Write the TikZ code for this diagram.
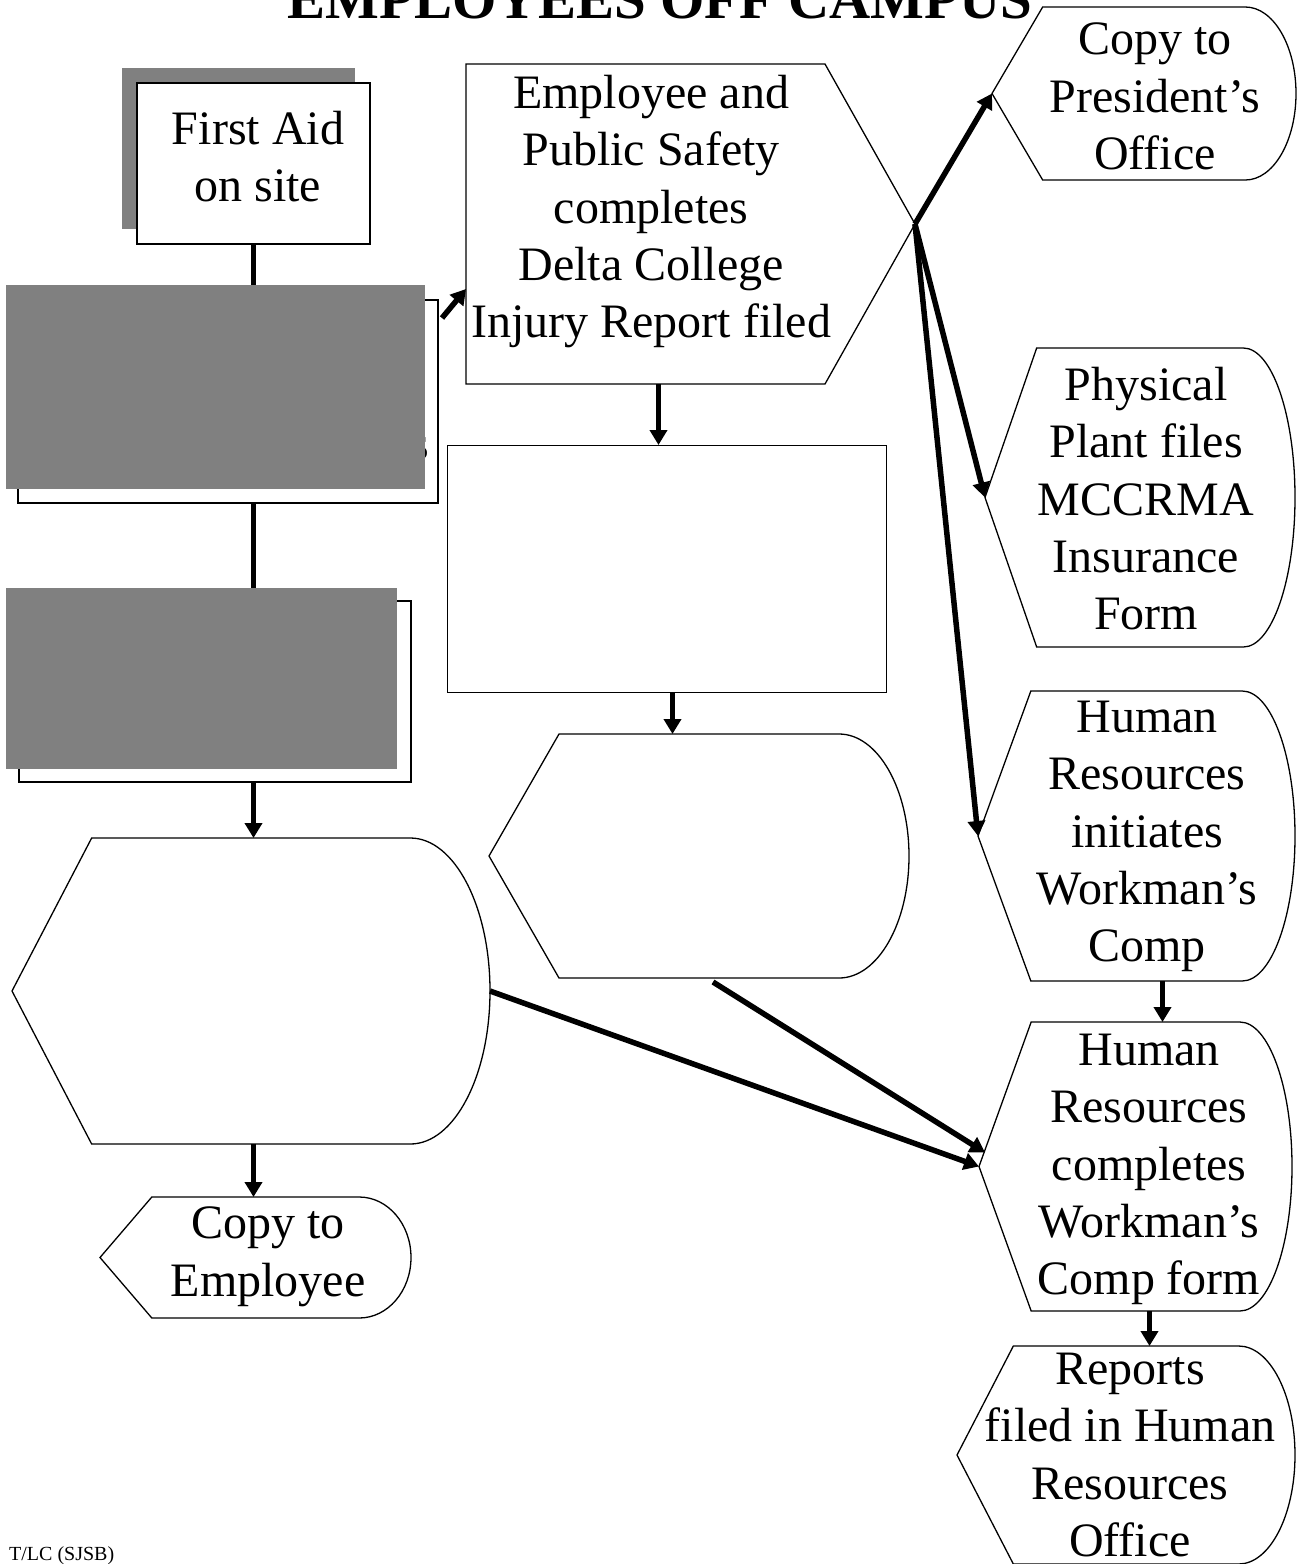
\documentclass[tikz,border=0pt]{standalone}
\usepackage{fontspec}
\setmainfont{Liberation Serif}
\usetikzlibrary{arrows.meta,calc,shadows}
\definecolor{redact}{RGB}{128,128,128}

% flowchart "display" outline round a node: point on the left, half ellipse on the right
\newcommand{\displayoutline}[1]{%
  \draw[outline] let \p1=(#1.north west), \p2=(#1.south east),
      \n1={(\x2-\x1)/6}, \n2={(\y1-\y2)/2} in
    (#1.west) -- (\x1+\n1,\y1) -- (\x2-\n1,\y1)
    arc[start angle=90, end angle=-90, x radius=\n1, y radius=\n2]
    -- (\x1+\n1,\y2) -- cycle;}

\begin{document}
\begin{tikzpicture}[x=1pt, y=-1pt,
    box/.style={draw, line width=1.5pt, fill=white, inner sep=0pt, outer sep=0pt},
    dispbox/.style={inner sep=0pt, outer sep=0pt},
    outline/.style={line width=1.3pt},
    txt/.style={font=\fontsize{48}{57.3}\selectfont, align=center, inner sep=0pt, anchor=north},
    link/.style={line width=5.5pt},
    flow/.style={link, -{Triangle[length=15pt, width=17pt]}}]

  \useasboundingbox (0,0) rectangle (1297,1564);

  % title
  \node[font=\fontsize{57}{60}\selectfont\bfseries, anchor=base] (title) at (660,18) {EMPLOYEES OFF CAMPUS};

  % left column
  \node[box, minimum width=233pt, minimum height=161pt,
    drop shadow={shadow xshift=-15pt, shadow yshift=15pt, fill=redact, opacity=1}] (aid) at (253.5,163.5) {};
  \node[box, minimum width=420pt, minimum height=203pt] (hid1) at (228,401.5) {};
  \node[box, minimum width=392pt, minimum height=181pt] (hid2) at (215,691.5) {};
  \node[dispbox, minimum width=478pt, minimum height=306pt] (big) at (251,991) {};
  \node[dispbox, minimum width=311pt, minimum height=121pt] (cemp) at (255.5,1257.5) {};

  % middle column
  \node[dispbox, minimum width=359pt, minimum height=320pt] (emp) at (645.5,224) {};
  \coordinate (emp-tip) at ([xshift=90pt]emp.east);
  \draw[outline] (emp.north east) -- (emp-tip) -- (emp.south east)
    -- (emp.south west) -- (emp.north west) -- cycle;
  \node[box, line width=1pt, minimum width=439pt, minimum height=247pt] (blank) at (666.5,568.5) {};
  \node[dispbox, minimum width=420pt, minimum height=244pt] (mid) at (699,856) {};

  % right column
  \node[dispbox, minimum width=304pt, minimum height=173pt] (pres) at (1144,93.5) {};
  \node[dispbox, minimum width=310pt, minimum height=299pt] (plant) at (1140,497.5) {};
  \node[dispbox, minimum width=317pt, minimum height=290pt] (hrinit) at (1136.5,836) {};
  \node[dispbox, minimum width=313pt, minimum height=289pt] (hrcomp) at (1135.5,1166.5) {};
  \node[dispbox, minimum width=338pt, minimum height=218pt] (files) at (1126,1455) {};

  \foreach \shp in {big,cemp,mid,pres,plant,hrinit,hrcomp,files}
    {\displayoutline{\shp}}

  % texts
  \node[txt] (aid-t) at (258,111) {First Aid\\on site};
  \node[font=\fontsize{48}{57.3}\selectfont, anchor=base east, inner sep=0pt] (hid1-t) at (429,459) {s};
  \node[txt] (emp-t) at (651,75) {Employee and\\Public Safety\\completes\\Delta College\\Injury Report filed};
  \node[txt] (cemp-t) at (268,1207) {Copy to\\Employee};
  \node[txt] (pres-t) at (1155,23) {Copy to\\President’s\\Office};
  \node[txt] (plant-t) at (1146,367) {Physical\\Plant files\\MCCRMA\\Insurance\\Form};
  \node[txt] (hrinit-t) at (1147,701) {Human\\Resources\\initiates\\Workman’s\\Comp};
  \node[txt] (hrcomp-t) at (1149,1034) {Human\\Resources\\completes\\Workman’s\\Comp form};
  \node[txt] (files-t) at (1130,1353) {Reports\\filed in Human\\Resources\\Office};
  \node[font=\fontsize{20}{24}\selectfont, anchor=base west, inner sep=0pt] (foot) at (9,1560) {T/LC (SJSB)};

  % connectors
  \draw[link] (aid.south) -- (aid.south |- hid1.north);
  \draw[link] (aid.south |- hid1.south) -- (aid.south |- hid2.north);
  \draw[flow] (aid.south |- hid2.south) -- (aid.south |- big.north);
  \draw[flow] (aid.south |- big.south) -- (aid.south |- cemp.north);
  \draw[flow] ([shift={(4pt,-18pt)}]hid1.north east) -- ([yshift=95pt]emp.south west);
  \draw[flow] ([xshift=-8pt]blank.north |- emp.south) -- ([xshift=-8pt]blank.north);
  \draw[flow] ([xshift=6pt]blank.south) -- ([xshift=6pt]blank.south |- mid.north);
  \draw[flow] (emp-tip) -- (pres.west);
  \draw[flow] (emp-tip) -- (plant.west);
  \draw[flow] (emp-tip) -- (hrinit.west);
  \draw[flow] ([xshift=26pt]hrinit.south) -- ([xshift=26pt]hrinit.south |- hrcomp.north);
  \draw[flow] ([xshift=14pt]hrcomp.south) -- ([xshift=14pt]hrcomp.south |- files.north);
  \draw[flow] (big.east) -- (hrcomp.west);
  \draw[flow] ([shift={(14pt,-4pt)}]mid.south) -- ([shift={(6pt,14pt)}]hrcomp.west);

  % grey blocks over the two hidden boxes
  \fill[redact] ([shift={(-12pt,14pt)}]hid1.south west) rectangle ([shift={(-13pt,15pt)}]hid1.north east);
  \fill[redact] ([shift={(-13pt,13pt)}]hid2.south west) rectangle ([shift={(-14pt,13pt)}]hid2.north east);
\end{tikzpicture}
\end{document}
